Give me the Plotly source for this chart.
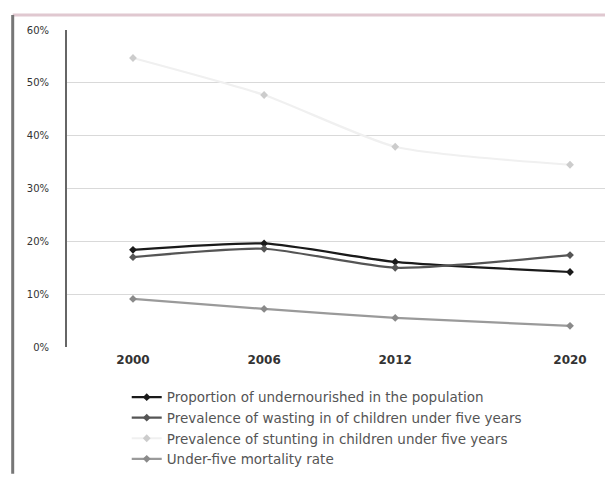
import plotly.graph_objects as go

years = [2000, 2006, 2012, 2020]
year_labels = ["2000", "2006", "2012", "2020"]
undernourishment = [18.4, 19.6, 16.1, 14.2]
wasting = [17.0, 18.6, 15.0, 17.4]
stunting = [54.7, 47.7, 37.9, 34.5]
mortality = [9.1, 7.2, 5.5, 4.0]

names = [
    "Proportion of undernourished in the population",
    "Prevalence of wasting in of children under five years",
    "Prevalence of stunting in children under five years",
    "Under-five mortality rate",
]
series = [undernourishment, wasting, stunting, mortality]
line_colors = ["#1a1a1a", "#555555", "#f0f0f0", "#9a9a9a"]
marker_colors = ["#1a1a1a", "#555555", "#cccccc", "#8a8a8a"]

fig = go.Figure()
for n, s, lc, mc in zip(names, series, line_colors, marker_colors):
    fig.add_trace(go.Scatter(
        x=years, y=s, name=n, mode="lines+markers",
        line=dict(color=lc, width=2.2, shape="spline", smoothing=0.6),
        marker=dict(color=mc, size=6, symbol="diamond"),
    ))

# the page has an 8px body margin, so the figure is drawn 8px in from the corner
fig.update_layout(
    width=605, height=478,
    margin=dict(l=59, r=3, t=22, b=139),
    paper_bgcolor="white", plot_bgcolor="white",
    font=dict(family="DejaVu Sans, sans-serif", color="#333333"),
    showlegend=True,
    legend=dict(
        x=0.11, y=-0.11, xanchor="left", yanchor="top",
        font=dict(size=13.5, color="#555555", family="DejaVu Sans, sans-serif"),
        itemwidth=30, tracegroupgap=0, bgcolor="rgba(0,0,0,0)",
    ),
    xaxis=dict(
        range=[1996.98, 2021.83], tickvals=years, ticktext=year_labels,
        showgrid=False, zeroline=False, showline=False,
        tickfont=dict(size=12, color="#333333", weight="bold"),
        ticklabelstandoff=4,
    ),
    yaxis=dict(
        range=[0, 60], dtick=10, ticksuffix="%",
        showgrid=True, gridcolor="#d9d9d9", gridwidth=1,
        zeroline=False, showline=True, linecolor="#666666", linewidth=2,
        tickfont=dict(size=10, color="#333333"),
        ticklabelstandoff=14,
    ),
)

# document frame lines around the chart
fig.add_shape(type="line", xref="paper", yref="paper", x0=-0.1, x1=1.005,
              y0=1.047, y1=1.047, line=dict(color="#e0c8d0", width=3))
fig.add_shape(type="line", xref="paper", yref="paper", x0=-0.1, x1=-0.1,
              y0=1.047, y1=-0.4, line=dict(color="#777777", width=3))
fig.add_shape(type="line", xref="paper", yref="paper", x0=1.003, x1=1.003,
              y0=1.047, y1=-0.4, line=dict(color="#dddddd", width=1))

fig.write_html("out.html")
